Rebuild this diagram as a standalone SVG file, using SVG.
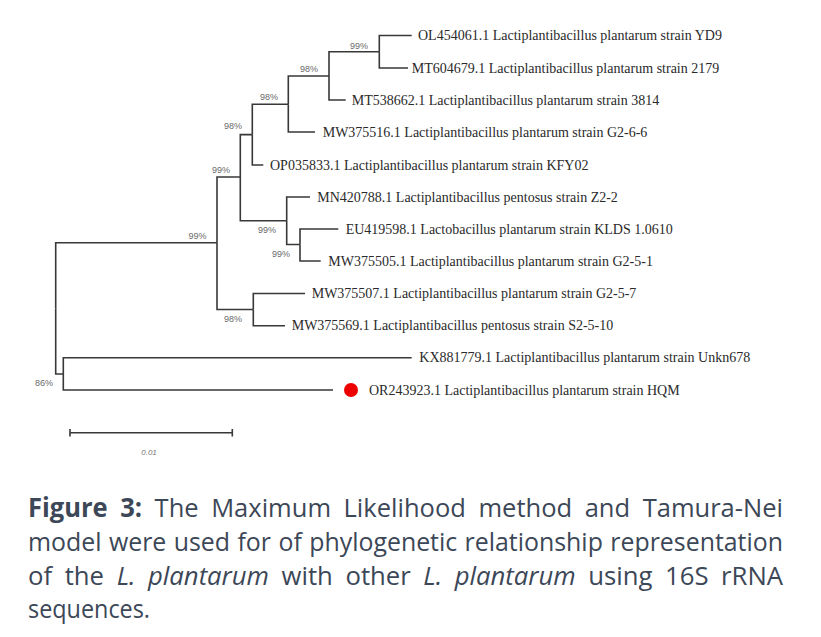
<svg xmlns="http://www.w3.org/2000/svg" width="821" height="637" viewBox="0 0 821 637">
<style>
.bg{fill:#ffffff}
.e{fill:none;stroke:#383838;stroke-width:1.6}
.leaf{font-family:"Liberation Serif","Times New Roman",serif;font-size:14px;fill:#2a2a2a}
.bs{font-family:"Liberation Sans",Arial,sans-serif;font-size:9px;fill:#6a6a6a;text-anchor:middle}
.cap{font-family:"Open Sans","Noto Sans",sans-serif;font-size:26px;fill:#3c4757;word-spacing:6px}
</style>
<rect class="bg" x="0" y="0" width="821" height="637"/>
<g id="connectors">
<path class="e" d="M55.7 308.3V242.7H217"/>
<path class="e" d="M55.7 308.3V374H63.3"/>
<path class="e" d="M217 242.7V177H240.3"/>
<path class="e" d="M217 242.7V309.5H253.3"/>
<path class="e" d="M240.3 177V134.6H252.3"/>
<path class="e" d="M240.3 177V220.7H286.7"/>
<path class="e" d="M252.3 134.6V104.3H288.3"/>
<path class="e" d="M252.3 134.6V165H263.3"/>
<path class="e" d="M288.3 104.3V76H329"/>
<path class="e" d="M288.3 104.3V132H315"/>
<path class="e" d="M329 76V51.7H379.3"/>
<path class="e" d="M329 76V100H345.7"/>
<path class="e" d="M379.3 51.7V35.5H411.7"/>
<path class="e" d="M379.3 51.7V68H408"/>
<path class="e" d="M286.7 220.7V197H310"/>
<path class="e" d="M286.7 220.7V244.5H300"/>
<path class="e" d="M300 244.5V229H338.3"/>
<path class="e" d="M300 244.5V261H320.7"/>
<path class="e" d="M253.3 309.5V293.5H305"/>
<path class="e" d="M253.3 309.5V325.7H285"/>
<path class="e" d="M63.3 374V357.7H411.7"/>
<path class="e" d="M63.3 374V390H333"/>
</g>
<g id="n-root"><text class="bs" x="44" y="386">86%</text></g>
<g id="n-F"><text class="bs" x="197.5" y="239">99%</text></g>
<g id="n-E"><text class="bs" x="221" y="173">99%</text></g>
<g id="n-D"><text class="bs" x="233" y="129">98%</text></g>
<g id="n-C"><text class="bs" x="269" y="100">98%</text></g>
<g id="n-B"><text class="bs" x="309" y="72">98%</text></g>
<g id="n-A"><text class="bs" x="359" y="49">99%</text></g>
<g id="n-I"><text class="bs" x="267" y="233">99%</text></g>
<g id="n-J"><text class="bs" x="281" y="257">99%</text></g>
<g id="n-H"><text class="bs" x="233" y="322">98%</text></g>
<g id="leaf-YD9"><text class="leaf" x="418" y="40">OL454061.1 Lactiplantibacillus plantarum strain YD9</text></g>
<g id="leaf-2179"><text class="leaf" x="411.7" y="72.5">MT604679.1 Lactiplantibacillus plantarum strain 2179</text></g>
<g id="leaf-3814"><text class="leaf" x="351.7" y="104.5">MT538662.1 Lactiplantibacillus plantarum strain 3814</text></g>
<g id="leaf-G2-6-6"><text class="leaf" x="322.7" y="136.5">MW375516.1 Lactiplantibacillus plantarum strain G2-6-6</text></g>
<g id="leaf-KFY02"><text class="leaf" x="270" y="169.5">OP035833.1 Lactiplantibacillus plantarum strain KFY02</text></g>
<g id="leaf-Z2-2"><text class="leaf" x="317.3" y="201.5">MN420788.1 Lactiplantibacillus pentosus strain Z2-2</text></g>
<g id="leaf-KLDS"><text class="leaf" x="345.7" y="233.5">EU419598.1 Lactobacillus plantarum strain KLDS 1.0610</text></g>
<g id="leaf-G2-5-1"><text class="leaf" x="328.3" y="265.5">MW375505.1 Lactiplantibacillus plantarum strain G2-5-1</text></g>
<g id="leaf-G2-5-7"><text class="leaf" x="311.7" y="298">MW375507.1 Lactiplantibacillus plantarum strain G2-5-7</text></g>
<g id="leaf-S2-5-10"><text class="leaf" x="291.7" y="330.2">MW375569.1 Lactiplantibacillus pentosus strain S2-5-10</text></g>
<g id="leaf-Unkn678"><text class="leaf" x="419.3" y="362.2">KX881779.1 Lactiplantibacillus plantarum strain Unkn678</text></g>
<g id="leaf-HQM"><circle cx="351" cy="390" r="7" fill="#ee0000"/><text class="leaf" x="369" y="394.5">OR243923.1 Lactiplantibacillus plantarum strain HQM</text></g>
<g id="scale-bar">
<path class="e" d="M70 432.7H232.3M70 429V436.4M232.3 429V436.4"/>
<text x="149" y="455" font-family="Liberation Sans,Arial,sans-serif" font-size="8" font-style="italic" fill="#777" text-anchor="middle">0.01</text>
</g>
<g id="caption">
<text class="cap" x="28" y="517" textLength="755" lengthAdjust="spacingAndGlyphs"><tspan font-weight="bold">Figure 3:</tspan> The Maximum Likelihood method and Tamura-Nei</text>
<text class="cap" x="28" y="551" textLength="755" lengthAdjust="spacingAndGlyphs" style="word-spacing:1px">model were used for of phylogenetic relationship representation</text>
<text class="cap" x="28" y="585" textLength="755" lengthAdjust="spacingAndGlyphs">of the <tspan font-style="italic">L. plantarum</tspan> with other <tspan font-style="italic">L. plantarum</tspan> using 16S rRNA</text>
<text class="cap" x="28" y="618" textLength="122" lengthAdjust="spacingAndGlyphs">sequences.</text>
</g>
</svg>
